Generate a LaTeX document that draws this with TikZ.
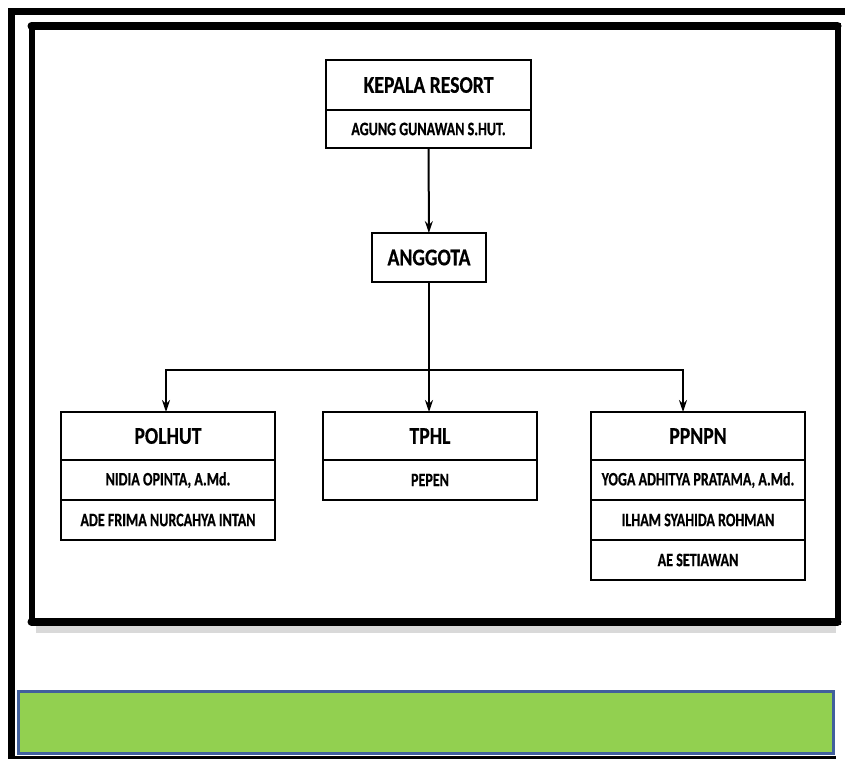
\documentclass[tikz,border=0pt]{standalone}
\usepackage{fontspec}
\setmainfont{Carlito}
\newfontfamily\headfont{Carlito}[FakeStretch=0.82, FakeBold=0.4]
\newfontfamily\rowfont{Carlito}[FakeStretch=0.74, FakeBold=0.5]
\usetikzlibrary{positioning, arrows.meta}
\definecolor{Leaf}{HTML}{92D050}
\definecolor{Slate}{HTML}{41609C}
\tikzset{
  head/.style={draw, line width=2.2pt, outer sep=0pt, inner sep=0pt, minimum width=214pt, minimum height=48pt, font=\headfont\bfseries\fontsize{24}{26}\selectfont},
  row/.style={draw, line width=2.2pt, outer sep=0pt, inner sep=0pt, minimum width=214pt, minimum height=40pt, font=\rowfont\bfseries\fontsize{19}{21}\selectfont},
  link/.style={line width=2pt, -{Stealth[length=12pt,width=8pt]}},
}

\begin{document}
\begin{tikzpicture}[x=1pt, y=-1pt]
  \useasboundingbox (0,0) rectangle (845,758);
  \clip (0,0) rectangle (845,758);
  % outer frame
  \draw[line width=7pt] (8,11.5) -- (860,11.5);
  \draw[line width=7pt] (11.5,8) -- (11.5,760);
  \draw[line width=3pt] (8,757) -- (836,757);
  % inner frame with shadow
  \draw[line width=7pt, black!25, opacity=0.6] (36,629) -- (836,629);
  \draw[line width=6pt, line cap=round] (31.5,26) rectangle (837.5,621.5);
  \draw[line width=8pt, line cap=round] (31.5,26) -- (837.5,26);
  \draw[line width=8pt, line cap=round] (31.5,621.5) -- (837.5,621.5);
  % green band
  \draw[line width=3pt, draw=Slate, fill=Leaf] (18.5,691.5) rectangle (833.5,753);

  % chart
  \node[head, minimum width=205pt, minimum height=50pt] (kepala) at (428.5,85) {KEPALA RESORT};
  \node[row, minimum width=205pt, minimum height=38pt, below=0pt of kepala] (kepalaname) {AGUNG GUNAWAN S.HUT.};

  \node[head, minimum width=114pt, minimum height=49pt] (anggota) at (429,257.5) {ANGGOTA};

  \node[head] (polhut) at (168,436) {POLHUT};
  \node[row, below=0pt of polhut] (polhut1) {NIDIA OPINTA, A.Md.};
  \node[row, below=0pt of polhut1] (polhut2) {ADE FRIMA NURCAHYA INTAN};

  \node[head] (tphl) at (430,436) {TPHL};
  \node[row, below=0pt of tphl] (tphl1) {PEPEN};

  \node[head] (ppnpn) at (698,436) {PPNPN};
  \node[row, below=0pt of ppnpn] (ppnpn1) {YOGA ADHITYA PRATAMA, A.Md.};
  \node[row, below=0pt of ppnpn1] (ppnpn2) {ILHAM SYAHIDA ROHMAN};
  \node[row, below=0pt of ppnpn2] (ppnpn3) {AE SETIAWAN};

  \coordinate (split) at (429,370);

  \draw[link] (kepalaname) -- (anggota);
  \draw[line width=2pt] (anggota) -- (split);
  \draw[link] (split) -| ([xshift=-2pt]polhut.north);
  \draw[link] (split) -- (split |- tphl.north);
  \draw[link] (split) -| ([xshift=-15pt]ppnpn.north);
\end{tikzpicture}
\end{document}
